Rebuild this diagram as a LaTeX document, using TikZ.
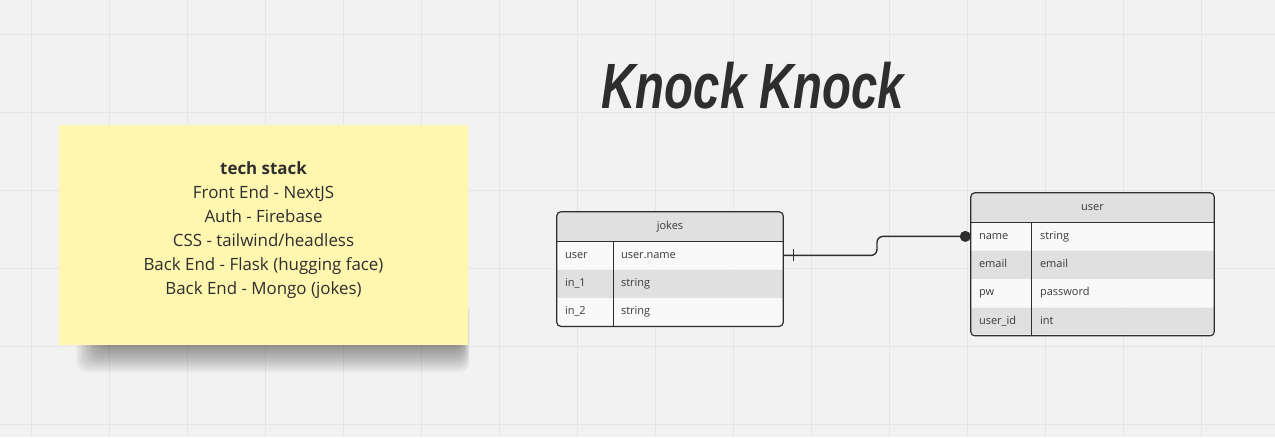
\documentclass[tikz,border=0pt]{standalone}
\usepackage{fontspec}
\setmainfont{Open Sans}
\newfontfamily\titlefont{Liberation Sans}
\usetikzlibrary{arrows.meta, positioning}

\definecolor{canvas}{HTML}{F2F2F2}
\definecolor{gridgray}{HTML}{E6E6E6}
\definecolor{stickyyellow}{HTML}{FFF7B0}
\definecolor{headgray}{HTML}{E0E0E0}
\definecolor{rowwhite}{HTML}{F9F9F9}
\definecolor{stripegray}{HTML}{E0E0E0}
\definecolor{inkdark}{HTML}{2E2E2E}
\definecolor{textgray}{HTML}{3A3A3A}

\tikzset{
  gridline/.style={draw=gridgray, line width=1pt},
  sticky/.style={fill=stickyyellow, inner sep=0pt},
  softshadow/.style={fill=black, opacity=0.028, rounded corners=10pt},
  notetext/.style={align=center, text=inkdark, font=\fontsize{16.9}{24.1}\selectfont},
  headcell/.style={fill=headgray, inner sep=0pt, minimum height=29pt, font=\fontsize{11}{13}\selectfont, text=textgray},
  rowcell/.style={fill=rowwhite, inner sep=0pt, minimum height=28pt},
  stripecell/.style={fill=stripegray, inner sep=0pt, minimum height=28pt},
  celltext/.style={anchor=west, inner sep=0pt, text height=8pt, text depth=2.5pt, font=\fontsize{11}{13}\selectfont, text=textgray},
  tableline/.style={draw=inkdark, line width=1.2pt},
  conn/.style={draw=inkdark, line width=1.4pt},
}

\begin{document}
\begin{tikzpicture}[x=1pt, y=-1pt]
  % Board background with grid
  \fill[canvas] (0,0) rectangle (1275,437);
  \useasboundingbox (0,0) rectangle (1275,437);
  \foreach \gx in {31,109,...,1275} \draw[gridline] (\gx,0) -- (\gx,437);
  \foreach \gy in {34,112,...,437} \draw[gridline] (0,\gy) -- (1275,\gy);

  % Title
  \node[font=\titlefont\bfseries\itshape\fontsize{64}{64}\selectfont, text=inkdark] (title) at (753,86) {\scalebox{0.74}[1]{Knock Knock}};

  % Sticky note with its shadow
  \foreach \s in {0,...,15}
    \fill[softshadow] (100-1.6*\s,300) rectangle (462+0.5*\s,347+1.7*\s);
  \node[sticky, minimum width=409pt, minimum height=220pt] (note) at (263.5,235) {};
  \node[notetext] (stack) at ([yshift=5pt]note.center) {\textbf{tech stack}\\Front End - NextJS\\Auth - Firebase\\CSS - tailwind/headless\\Back End - Flask (hugging face)\\Back End - Mongo (jokes)};

  % jokes table
  \begin{scope}
    \clip[rounded corners=4pt] (557,212) rectangle (783,325);
    \node[headcell, minimum width=226pt] (jhead) at (670,226.5) {jokes};
    \node[rowcell, minimum width=226pt, below=0pt of jhead] (juser) {};
    \node[stripecell, minimum width=226pt, below=0pt of juser] (jin1) {};
    \node[rowcell, minimum width=226pt, below=0pt of jin1] (jin2) {};
  \end{scope}
  \node[celltext] (juserkey) at ([xshift=8pt]juser.west) {user};
  \node[celltext] (juserval) at ([xshift=64pt]juser.west) {user.name};
  \node[celltext] (jin1key) at ([xshift=8pt]jin1.west) {in\_1};
  \node[celltext] (jin1val) at ([xshift=64pt]jin1.west) {string};
  \node[celltext] (jin2key) at ([xshift=8pt]jin2.west) {in\_2};
  \node[celltext] (jin2val) at ([xshift=64pt]jin2.west) {string};
  \draw[tableline] (jhead.south west) -- (jhead.south east);
  \draw[tableline] ([xshift=57pt]juser.north west) -- ([xshift=57pt]jin2.south west);
  \draw[tableline, rounded corners=4pt] (jhead.north west) rectangle (jin2.south east);

  % user table
  \begin{scope}
    \clip[rounded corners=4pt] (971,193) rectangle (1214,334);
    \node[headcell, minimum width=243pt] (uhead) at (1092.5,207.5) {user};
    \node[rowcell, minimum width=243pt, below=0pt of uhead] (uname) {};
    \node[stripecell, minimum width=243pt, below=0pt of uname] (uemail) {};
    \node[rowcell, minimum width=243pt, below=0pt of uemail] (upw) {};
    \node[stripecell, minimum width=243pt, below=0pt of upw] (uid) {};
  \end{scope}
  \node[celltext] (unamekey) at ([xshift=8pt]uname.west) {name};
  \node[celltext] (unameval) at ([xshift=69pt]uname.west) {string};
  \node[celltext] (uemailkey) at ([xshift=8pt]uemail.west) {email};
  \node[celltext] (uemailval) at ([xshift=69pt]uemail.west) {email};
  \node[celltext] (upwkey) at ([xshift=8pt]upw.west) {pw};
  \node[celltext] (upwval) at ([xshift=69pt]upw.west) {password};
  \node[celltext] (uidkey) at ([xshift=8pt]uid.west) {user\_id};
  \node[celltext] (uidval) at ([xshift=69pt]uid.west) {int};
  \draw[tableline] (uhead.south west) -- (uhead.south east);
  \draw[tableline] ([xshift=61pt]uname.north west) -- ([xshift=61pt]uid.south west);
  \draw[tableline, rounded corners=4pt] (uhead.north west) rectangle (uid.south east);

  % Relation jokes.user -> user.name
  \coordinate (jog) at (877,0);
  \draw[conn, rounded corners=6pt, -{Circle[length=11pt]}] (juser.east) -- (jog |- juser.east) -- (jog |- uname.west) -- (uname.west);
  \draw[conn] ([xshift=10pt,yshift=-6pt]juser.east) -- ([xshift=10pt,yshift=6pt]juser.east);
\end{tikzpicture}
\end{document}
